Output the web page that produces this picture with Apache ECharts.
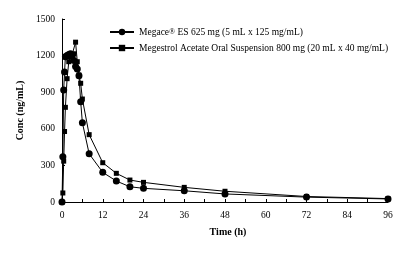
<!DOCTYPE html>
<html>
<head>
<meta charset="utf-8">
<script src="https://cdn.jsdelivr.net/npm/echarts@6/dist/echarts.min.js"></script>
<style>
  html, body { margin: 0; padding: 0; background: #fff; }
  #chart { width: 400px; height: 254px; }
</style>
</head>
<body>
<div id="chart"></div>
<script>
// sampling times (h)
const esTimes = [0, 0.25, 0.5, 0.75, 1, 1.5, 2, 2.5, 3, 3.5, 4, 4.5, 5, 5.5, 6, 8, 12, 16, 20, 24, 36, 48, 72, 96];
const esConc = [0, 371, 918, 1066, 1191, 1200, 1210, 1215, 1200, 1160, 1110, 1090, 1035, 822, 650, 395, 243, 172, 125, 112, 92, 66, 40, 25];

const osTimes = [0, 0.25, 0.5, 0.75, 1, 1.5, 2, 2.5, 3, 3.5, 4, 4.5, 5, 5.5, 6, 8, 12, 16, 20, 24, 36, 48, 72, 96];
const osConc = [0, 74, 335, 578, 776, 1011, 1150, 1190, 1210, 1215, 1310, 1150, 1041, 973, 844, 552, 322, 235, 180, 161, 120, 88, 45, 28];

const seriesNames = [
  "Megace® ES 625 mg (5 mL x 125 mg/mL)",
  "Megestrol Acetate Oral Suspension 800 mg (20 mL x 40 mg/mL)"
];

const font = "Liberation Serif";
const chart = echarts.init(document.getElementById("chart"));

function pairs(ts, vs) {
  return ts.map((t, i) => [t, vs[i]]);
}

chart.setOption({
  animation: false,
  backgroundColor: "#fff",
  textStyle: { fontFamily: font, color: "#000" },
  grid: { left: 62, right: 12, top: 19, bottom: 52, containLabel: false },
  legend: {
    orient: "vertical",
    left: 104,
    top: 22,
    itemWidth: 24,
    itemHeight: 8,
    itemGap: 6,
    data: seriesNames,
    formatter: (name) => name.indexOf("®") >= 0
      ? "{a|Megace}{sup|®}{a| ES 625 mg (5 mL x 125 mg/mL)}"
      : "{a|" + name + "}",
    textStyle: {
      fontFamily: font,
      color: "#000",
      rich: {
        a: { fontFamily: font, fontSize: 9.5, color: "#000", height: 12 },
        sup: { fontFamily: font, fontSize: 8, color: "#000", verticalAlign: "top", height: 12 }
      }
    }
  },
  xAxis: {
    type: "value",
    min: 0,
    max: 96,
    interval: 12,
    name: "Time (h)",
    nameLocation: "middle",
    nameGap: 25,
    nameTextStyle: { fontFamily: font, fontSize: 10, fontWeight: "bold", color: "#000", padding: [0, 0, 0, 6] },
    axisLine: { lineStyle: { color: "#000", width: 1 } },
    axisTick: { inside: true, length: 3, lineStyle: { color: "#000" } },
    minorTick: { show: true, splitNumber: 2, length: 3, lineStyle: { color: "#000" } },
    axisLabel: { fontFamily: font, fontSize: 9.5, color: "#000", margin: 8 },
    splitLine: { show: false }
  },
  yAxis: {
    type: "value",
    min: 0,
    max: 1500,
    interval: 300,
    name: "Conc (ng/mL)",
    nameLocation: "middle",
    nameGap: 30,
    nameTextStyle: { fontFamily: font, fontSize: 10, fontWeight: "bold", color: "#000" },
    axisLine: { show: true, lineStyle: { color: "#000", width: 1 } },
    axisTick: { show: true, inside: true, length: 3, lineStyle: { color: "#000" } },
    axisLabel: { fontFamily: font, fontSize: 9.5, color: "#000", margin: 7, formatter: (v) => String(v) },
    splitLine: { show: false }
  },
  series: [
    {
      name: seriesNames[0],
      type: "line",
      data: pairs(esTimes, esConc),
      symbol: "circle",
      symbolSize: 7,
      itemStyle: { color: "#000" },
      lineStyle: { color: "#000", width: 1 }
    },
    {
      name: seriesNames[1],
      type: "line",
      data: pairs(osTimes, osConc),
      symbol: "rect",
      symbolSize: 5,
      itemStyle: { color: "#000" },
      lineStyle: { color: "#000", width: 1 }
    }
  ]
});
</script>
</body>
</html>
